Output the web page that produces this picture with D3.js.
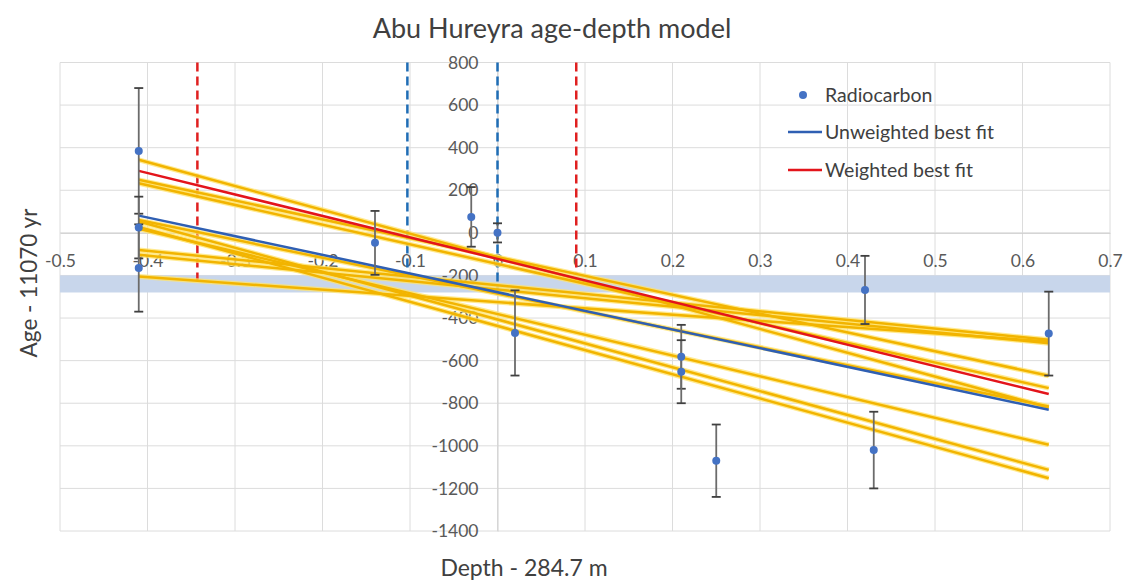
<!DOCTYPE html>
<html><head><meta charset="utf-8">
<script src="https://cdn.jsdelivr.net/npm/d3@7"></script>
<style>
body{margin:0;background:#fff}
svg{display:block}
text{font-family:Lato,'Open Sans',sans-serif}
</style>
</head><body>
<svg id="chart" width="1127" height="580"></svg>
<script>
// ---------- data ----------
const xTicks = [-0.5,-0.4,-0.3,-0.2,-0.1,0,0.1,0.2,0.3,0.4,0.5,0.6,0.7];
const yTicks = [-1400,-1200,-1000,-800,-600,-400,-200,0,200,400,600,800];

// Radiocarbon dates (depth offset m, age offset yr, 1-sigma error yr)
const pointDepth = [-0.41,-0.41,-0.41,-0.14,-0.03,0,0.02,0.21,0.21,0.25,0.42,0.43,0.63];
const pointAge   = [385,25,-165,-47,75,0,-470,-582,-652,-1070,-268,-1020,-473];
const pointErr   = [295,145,205,150,140,45,200,150,148,170,160,180,197];

// best-fit lines, evaluated at the two end depths
const fitDepth = [-0.41, 0.63];
const unweightedFit = [81, -831];
const weightedFit = [291, -757];

// alternative (resampled) fits: age at the left / right end depths
const altStart = [343, 249, 233, 60, 53, 28, 19, -80, -103, -205];
const altEnd   = [-820, -671, -729, -815, -1113, -1152, -995, -502, -518, -510];

// shaded age band
const bandAge = [-280, -200];

// vertical dashed markers
const markerDepth = [-0.343, -0.103, 0, 0.09];
const markerBottom = [-240, -200, -280, -190];
const markerSeries = ["weighted","unweighted","unweighted","weighted"];

const legendLabels = ["Radiocarbon","Unweighted best fit","Weighted best fit"];

// ---------- layout ----------
const svg = d3.select("#chart");
const x = d3.scaleLinear().domain([-0.5,0.7]).range([60,1110]);
const y = d3.scaleLinear().domain([-1400,800]).range([531,62.5]);
const colors = {unweighted:"#2f5fb3", weighted:"#e3141b", alt:"#f2b400", altGlow:"#ffe36b", point:"#4472c4"};
const fmt = v => String(Math.round(v*10)/10);
const fmtY = v => String(Math.round(v));

// gridlines
const grid = svg.append("g");
grid.selectAll("line.v").data(xTicks).join("line")
  .attr("x1",d=>x(d)).attr("x2",d=>x(d)).attr("y1",y(800)).attr("y2",y(-1400))
  .attr("stroke","#dcdcdc").attr("stroke-width",1);
grid.selectAll("line.h").data(yTicks).join("line")
  .attr("x1",x(-0.5)).attr("x2",x(0.7)).attr("y1",d=>y(d)).attr("y2",d=>y(d))
  .attr("stroke","#dcdcdc").attr("stroke-width",1);

// band
svg.append("rect")
  .attr("x",x(-0.5)).attr("width",x(0.7)-x(-0.5))
  .attr("y",y(bandAge[1])).attr("height",y(bandAge[0])-y(bandAge[1]))
  .attr("fill","#c8d6eb");

// axes
const xAxis = svg.append("g").attr("transform",`translate(0,${y(0)})`)
  .call(d3.axisBottom(x).tickValues(xTicks).tickFormat(fmt).tickSize(0).tickPadding(22));
const yAxis = svg.append("g").attr("transform",`translate(${x(0)},0)`)
  .call(d3.axisLeft(y).tickValues(yTicks).tickFormat(fmtY).tickSize(0).tickPadding(19));
[xAxis,yAxis].forEach(g=>{
  g.select(".domain").attr("stroke","#d0d0d0");
  g.selectAll("text").attr("font-size",17.5).attr("fill","#595959").attr("font-family","Lato, 'Open Sans', sans-serif");
});

// dashed markers
svg.append("g").selectAll("line").data(markerDepth).join("line")
  .attr("x1",d=>x(d)).attr("x2",d=>x(d))
  .attr("y1",y(800)).attr("y2",(d,i)=>y(markerBottom[i]))
  .attr("stroke",(d,i)=>markerSeries[i]==="weighted"?"#e02020":"#1f6db5")
  .attr("stroke-width",2.5).attr("stroke-dasharray","9,5");

// alternative fits
const line = d3.line().x(d=>x(d[0])).y(d=>y(d[1]));
const altData = altStart.map((s,i)=>[[fitDepth[0],s],[fitDepth[1],altEnd[i]]]);
const altG = svg.append("g");
altG.selectAll("path.glow").data(altData).join("path")
  .attr("d",line).attr("fill","none").attr("stroke",colors.altGlow)
  .attr("stroke-width",5).attr("stroke-opacity",0.75);
altG.selectAll("path.core").data(altData).join("path")
  .attr("d",line).attr("fill","none").attr("stroke",colors.alt).attr("stroke-width",2.5);

// best fits
svg.append("path").datum(fitDepth.map((d,i)=>[d,unweightedFit[i]]))
  .attr("d",line).attr("fill","none").attr("stroke",colors.unweighted).attr("stroke-width",2.5);
svg.append("path").datum(fitDepth.map((d,i)=>[d,weightedFit[i]]))
  .attr("d",line).attr("fill","none").attr("stroke",colors.weighted).attr("stroke-width",2.5);

// error bars
const eb = svg.append("g");
pointDepth.forEach((d,i)=>{
  const cx = x(d), top = y(pointAge[i]+pointErr[i]), bot = y(pointAge[i]-pointErr[i]);
  eb.append("line").attr("x1",cx).attr("x2",cx).attr("y1",top).attr("y2",bot)
    .attr("stroke","#6b6b6b").attr("stroke-width",1.8);
  [top,bot].forEach(v=>eb.append("line").attr("x1",cx-4.5).attr("x2",cx+4.5).attr("y1",v).attr("y2",v)
    .attr("stroke","#404040").attr("stroke-width",1.8));
});

// points
svg.append("g").selectAll("circle").data(pointDepth).join("circle")
  .attr("cx",d=>x(d)).attr("cy",(d,i)=>y(pointAge[i])).attr("r",4)
  .attr("fill",colors.point);

// title & axis titles
svg.append("text").attr("x",552).attr("y",38).attr("text-anchor","middle")
  .attr("font-size",27).attr("fill","#404040").text("Abu Hureyra age-depth model");
svg.append("text").attr("x",524).attr("y",576).attr("text-anchor","middle")
  .attr("font-size",23).attr("fill","#404040").text("Depth - 284.7 m");
svg.append("text").attr("transform","translate(37,283) rotate(-90)").attr("text-anchor","middle")
  .attr("font-size",22.5).attr("fill","#404040").text("Age - 11070 yr");

// legend
const lg = svg.append("g");
const legendY = [95,132,170];
lg.append("circle").attr("cx",803).attr("cy",legendY[0]).attr("r",4).attr("fill",colors.point);
lg.append("line").attr("x1",788).attr("x2",822).attr("y1",legendY[1]).attr("y2",legendY[1])
  .attr("stroke",colors.unweighted).attr("stroke-width",2.5);
lg.append("line").attr("x1",788).attr("x2",822).attr("y1",legendY[2]).attr("y2",legendY[2])
  .attr("stroke",colors.weighted).attr("stroke-width",2.5);
lg.selectAll("text").data(legendLabels).join("text")
  .attr("x",825).attr("y",(d,i)=>legendY[i]).attr("dy","0.35em")
  .attr("font-size",19.5).attr("fill","#404040").text(d=>d);
</script>
</body></html>
